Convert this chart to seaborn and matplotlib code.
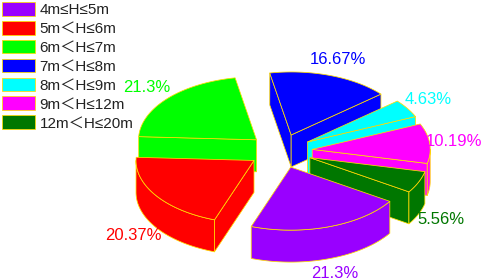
import numpy as np
import matplotlib
matplotlib.use('Agg')
import matplotlib.pyplot as plt
from matplotlib.patches import Patch
import seaborn as sns

# share of each height class, %
height_classes = ['4m≤H≤5m', '5m＜H≤6m', '6m＜H≤7m', '7m＜H≤8m',
                  '8m＜H≤9m', '9m＜H≤12m', '12m＜H≤20m']
shares = [21.3, 20.37, 21.3, 16.67, 4.63, 10.19, 5.56]
slice_colors = ['#9900FF', '#FF0000', '#00FF00', '#0000FF',
                '#00FFFF', '#FF00FF', '#007700']

# back to front, so nearer slices cover the ones behind
draw_order = [2, 1, 3, 4, 5, 6, 0]

# pie projection, in output pixels
CX, CY = 280.5, 151
RX, RY = 118, 63
DEPTH = 32
EXPLODE = 0.27
START = 122.9  # degrees clockwise from 12 o'clock
EDGE = '#FFDC00'

label_pos = [(335, 273), (133, 236), (147, 87), (338, 60),
             (428, 99), (454, 141), (441, 219)]

sns.set_theme(style='white')
plt.rcParams['font.family'] = ['Liberation Sans', 'Noto Sans CJK SC']
palette = sns.color_palette(slice_colors)

fig = plt.figure(figsize=(4.84, 2.80), dpi=100)
ax = fig.add_axes([0, 0, 1, 1])
ax.set_xlim(0, 484)
ax.set_ylim(280, 0)
ax.axis('off')


def rim_xy(deg, x0, y0):
    rad = np.radians(deg)
    return x0 + RX * np.sin(rad), y0 - RY * np.cos(rad)


def face(xs, ys, color):
    ax.fill(xs, ys, facecolor=color, edgecolor=EDGE, linewidth=0.55,
            joinstyle='round')


spans = np.array(shares) / sum(shares) * 360
starts = (START + np.concatenate([[0], np.cumsum(spans)[:-1]])) % 360

for i in draw_order:
    t1, t2 = starts[i], starts[i] + spans[i]
    mid = np.radians((t1 + t2) / 2)
    x0 = CX + EXPLODE * RX * np.sin(mid)
    y0 = CY - EXPLODE * RY * np.cos(mid)
    color = palette[i]

    # radial walls, only the ones turned towards the viewer
    for t, visible in [(t1, np.sin(np.radians(t1)) < 0),
                       (t2, np.sin(np.radians(t2)) > 0)]:
        if visible:
            x, y = rim_xy(t, x0, y0)
            face([x0, x, x, x0], [y0, y, y + DEPTH, y0 + DEPTH], color)

    # curved wall, front half of the ellipse
    lo, hi = max(t1, 90), min(t2, 270)
    if lo < hi:
        x, y = rim_xy(np.linspace(lo, hi, 60), x0, y0)
        face(np.r_[x, x[::-1]], np.r_[y, y[::-1] + DEPTH], color)

    # top
    x, y = rim_xy(np.linspace(t1, t2, 80), x0, y0)
    face(np.r_[x0, x], np.r_[y0, y], color)

for i, (px, py) in enumerate(label_pos):
    ax.text(px, py, f'{shares[i]:g}%', color=palette[i], fontsize=12,
            ha='center', va='center')

handles = [Patch(facecolor=c, edgecolor=EDGE, linewidth=0.55) for c in palette]
ax.legend(handles, height_classes, loc='upper left',
          bbox_to_anchor=(2 / 484, 1 - 2 / 280), frameon=False, fontsize=11,
          borderpad=0, borderaxespad=0, handlelength=2.15, handleheight=1.0,
          handletextpad=0.3, labelspacing=0.25, labelcolor='#222222')

fig.savefig('out.png', dpi=100)
